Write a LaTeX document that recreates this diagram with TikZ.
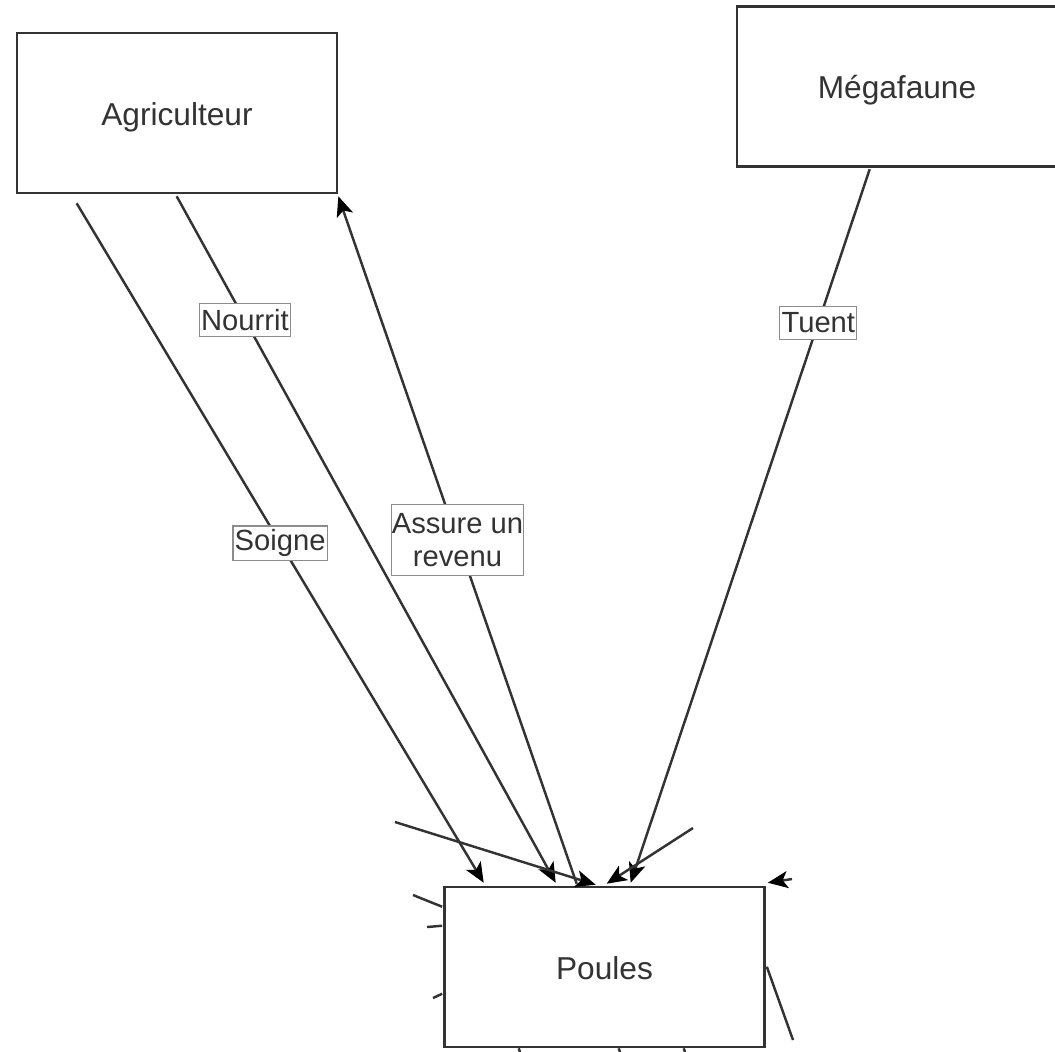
\documentclass[tikz,border=0pt]{standalone}
\usepackage{fontspec}
\setmainfont{Liberation Sans}
\usetikzlibrary{calc,arrows.meta}
\definecolor{ink}{HTML}{333333}
\tikzset{
  box/.style={draw=ink, line width=0.7pt, fill=white, minimum width=3.2cm, minimum height=1.6cm,
    font=\fontsize{9}{11}\selectfont, text=ink, inner sep=0pt, text height=0.7em, text depth=0pt},
  conn/.style={draw=ink, line width=0.7pt},
  arr/.style={conn, -{Stealth[length=0.2cm, width=0.17cm, inset=0.05cm, color=black]}},
  lbl/.style={draw=black!45, line width=0.35pt, fill=white, text=ink, inner xsep=0.5pt, inner ysep=1pt,
    font=\fontsize{8.3}{9.6}\selectfont, align=center, minimum height=0.33cm}
}
\begin{document}
\begin{tikzpicture}[x=0.01cm, y=-0.01cm]
\useasboundingbox (0,0) rectangle (1055,1051);
\node[box] (agri) at (177,113) {Agriculteur};
\node[box] (mega) at (897,86.5) {Mégafaune};
\node[box] (poules) at (604.5,967) {Poules};

% free ends
\coordinate (fa) at (395,822);
\coordinate (fb) at (693,828);
\coordinate (fc) at (792,879);
\coordinate (fl1) at (413,895);
\coordinate (fl2) at (427,927);
\coordinate (fl3) at (433,998);
\coordinate (fr) at (793,1040);
\coordinate (fd1) at (520,1052);
\coordinate (fd2) at (620,1052);
\coordinate (fd3) at (685,1052);

% main connectors
\draw[arr] ($(agri.south west)+(61,9)$) -- ($(poules.north west)+(40.5,-3)$)
  node[lbl, pos=0.5] (lsoigne) {Soigne};
\draw[arr] ($(agri.south west)+(161,2)$) -- ($(poules.north west)+(112.5,-3)$)
  node[lbl, pos=0.18] (lnourrit) {Nourrit};
\draw[arr] ($(poules.north west)+(133.5,-2)$) -- ($(agri.south east)+(0,2)$)
  node[lbl, pos=0.5, inner ysep=2.3pt, inner xsep=0pt] (lassure) {Assure un\\revenu};
\draw[arr] ($(mega.south west)+(134,1.5)$) -- ($(poules.north west)+(187.5,-3)$)
  node[lbl, pos=0.215] (ltuent) {Tuent};

% stub connectors
\draw[arr] (fa) -- ($(poules.north west)+(152.5,-1)$);
\draw[arr] (fb) -- ($(poules.north west)+(163.5,-2)$);
\draw[arr] (fc) -- ($(poules.north east)+(2,-3)$);
\draw[conn] (fl1) -- ($(poules.north west)+(-1,21)$);
\draw[conn] (fl2) -- ($(poules.north west)+(-1,40)$);
\draw[conn] (fl3) -- ($(poules.north west)+(-1,108)$);
\draw[conn] ($(poules.north east)+(1,81)$) -- (fr);
\draw[conn] ($(poules.south west)+(75.5,0)$) -- (fd1);
\draw[conn] ($(poules.south west)+(175.5,0)$) -- (fd2);
\draw[conn] ($(poules.south west)+(240.5,0)$) -- (fd3);
\end{tikzpicture}
\end{document}
